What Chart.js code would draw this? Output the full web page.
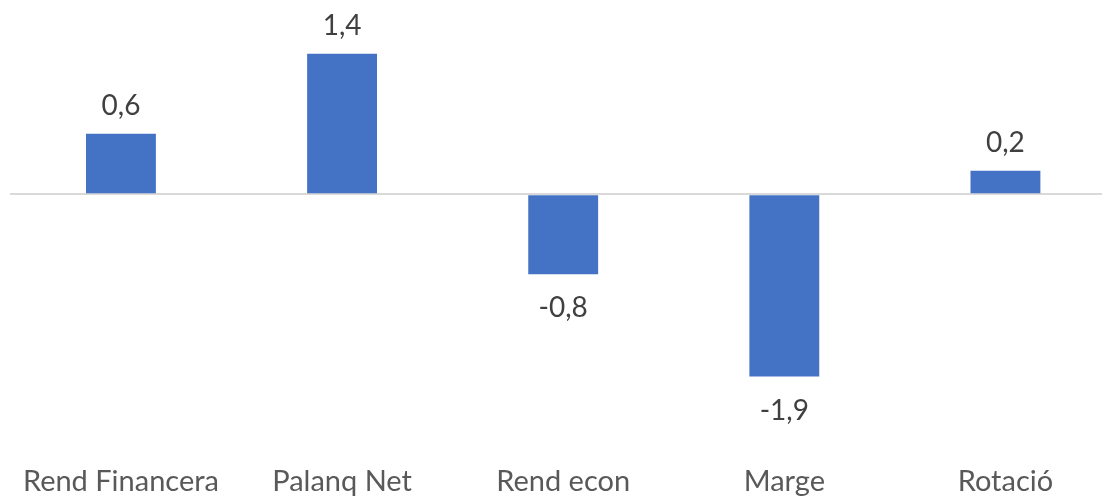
<!DOCTYPE html>
<html><head><meta charset="utf-8">
<script src="https://cdn.jsdelivr.net/npm/chart.js@4/dist/chart.umd.min.js"></script>
<style>html,body{margin:0;padding:0;overflow:hidden;background:#fff}#wrap{width:1117px;height:496px}</style>
</head><body><div id="wrap"><canvas id="c" width="1117" height="496"></canvas></div>
<script>
const categories = ["Rend Financera", "Palanq Net", "Rend econ", "Marge", "Rotació"];
const values = [0.62, 1.44, -0.82, -1.87, 0.24];
const labelTexts = ["0,6", "1,4", "-0,8", "-1,9", "0,2"];
const FONT = "Lato";
const TXT = "#404040";
const AXTXT = "#595959";

const labelPlugin = {
  id: "vals",
  afterDatasetsDraw(chart) {
    const ctx = chart.ctx;
    const meta = chart.getDatasetMeta(0);
    ctx.save();
    ctx.font = "28px " + FONT;
    ctx.fillStyle = TXT;
    ctx.textAlign = "center";
    ctx.textBaseline = "middle";
    meta.data.forEach((bar, i) => {
      const v = values[i];
      const y = v >= 0 ? bar.y - 28 : bar.y + 34;
      ctx.fillText(labelTexts[i], bar.x, y);
    });
    ctx.restore();
  }
};

new Chart(document.getElementById("c"), {
  type: "bar",
  data: { labels: categories, datasets: [{ data: values, backgroundColor: "#4472C4", categoryPercentage: 1, barPercentage: 0.316 }] },
  options: {
    responsive: false, animation: false,
    layout: { padding: { top: 9, left: 9, right: 1, bottom: 0 } },
    plugins: { legend: { display: false }, tooltip: { enabled: false } },
    scales: {
      x: { grid: { display: false }, border: { display: false },
           afterFit: s => { s.height = 62; },
           ticks: { color: AXTXT, font: { family: FONT, size: 29 }, padding: 22 } },
      y: { min: -2.46, max: 1.9, border: { display: false },
           afterFit: s => { s.width = 0; },
           ticks: { display: false, stepSize: 0.1 },
           grid: { drawTicks: false, lineWidth: 2, color: ctx => (ctx.tick && Math.abs(ctx.tick.value) < 1e-9) ? "#d9d9d9" : "rgba(0,0,0,0)" } }
    }
  },
  plugins: [labelPlugin]
});
</script></body></html>
